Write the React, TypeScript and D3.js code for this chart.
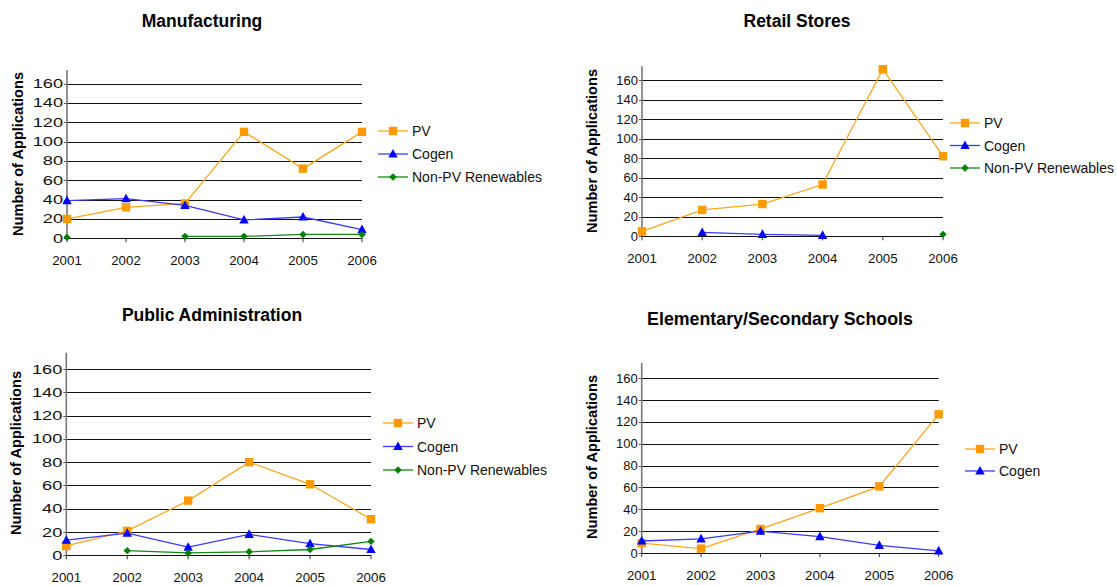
import React from "react";
import * as d3 from "d3";

const years = ["2001", "2002", "2003", "2004", "2005", "2006"];
const yTicks = [0, 20, 40, 60, 80, 100, 120, 140, 160];
const seriesNames = ["PV", "Cogen", "Non-PV Renewables"];

const manufacturingPV = [20, 32, 36, 110, 72, 110];
const manufacturingCogen = [39, 41, 34, 19, 22, 9];
const manufacturingNonPV = [1, null, 2, 2, 4, 4];

const retailPV = [5, 27, 33, 53, 171, 82];
const retailCogen = [null, 4, 2, 1, null, null];
const retailNonPV = [null, null, null, null, null, 2];

const publicPV = [8, 21, 47, 80, 61, 31];
const publicCogen = [13, 19, 7, 18, 10, 5];
const publicNonPV = [null, 4, 2, 3, 5, 12];

const schoolsPV = [9, 4, 22, 41, 61, 127];
const schoolsCogen = [11, 13, 20, 15, 7, 2];

type Val = number | null;

const STYLES = [
  { line: "#FFA520", fill: "#FF9900", marker: "square" },
  { line: "#3A3AFF", fill: "#0000FF", marker: "triangle" },
  { line: "#118811", fill: "#008000", marker: "diamond" },
];

const FONT = "'Liberation Sans', Arial, Helvetica, sans-serif";

const panels = [
  {
    title: "Manufacturing", titleX: 202, titleY: 21, titleSize: 17.5,
    x0: 67, x1: 362, yBase: 238.3, yTop: 83.5, axisMax: 174, tickStretch: 1.4,
    labelX: 18, labelY: 154,
    legX: 378, legY: 131, legGap: 23,
    series: [manufacturingPV, manufacturingCogen, manufacturingNonPV],
  },
  {
    title: "Retail Stores", titleX: 797, titleY: 21, titleSize: 17.5,
    x0: 642, x1: 943, yBase: 236.3, yTop: 80, axisMax: 174, tickStretch: 1,
    labelX: 592, labelY: 151,
    legX: 950, legY: 123, legGap: 22.5,
    series: [retailPV, retailCogen, retailNonPV],
  },
  {
    title: "Public Administration", titleX: 212, titleY: 315, titleSize: 17.5,
    x0: 66.3, x1: 371, yBase: 555.3, yTop: 369, axisMax: 174, tickStretch: 1.4,
    labelX: 16, labelY: 453,
    legX: 383, legY: 423, legGap: 23.5,
    series: [publicPV, publicCogen, publicNonPV],
  },
  {
    title: "Elementary/Secondary Schools", titleX: 780, titleY: 319, titleSize: 17.8,
    x0: 641.7, x1: 938.7, yBase: 553, yTop: 378.3, axisMax: 174, tickStretch: 1,
    labelX: 592, labelY: 457,
    legX: 965, legY: 449, legGap: 22,
    series: [schoolsPV, schoolsCogen],
  },
];

function Marker({ kind, x, y, fill }: { kind: string; x: number; y: number; fill: string }) {
  if (kind === "square") {
    return <rect x={x - 4.2} y={y - 4.2} width={8.4} height={8.4} fill={fill} />;
  }
  if (kind === "triangle") {
    return <path d={`M${x},${y - 5}L${x + 4.7},${y + 3.6}L${x - 4.7},${y + 3.6}Z`} fill={fill} />;
  }
  return <path d={`M${x},${y - 3.7}L${x + 3.7},${y}L${x},${y + 3.7}L${x - 3.7},${y}Z`} fill={fill} />;
}

function Panel({ p }: { p: (typeof panels)[number] }) {
  const x = d3.scalePoint<string>().domain(years).range([p.x0, p.x1]);
  const y = d3.scaleLinear().domain([0, 160]).range([p.yBase, p.yTop]);
  const line = d3
    .line<Val>()
    .defined((d) => d !== null)
    .x((_, i) => x(years[i]) as number)
    .y((d) => y(d as number));

  return (
    <g>
      <text x={p.titleX} y={p.titleY} textAnchor="middle" dominantBaseline="central"
        fontFamily={FONT} fontWeight="bold" fontSize={p.titleSize} fill="#000">{p.title}</text>
      {yTicks.map((t) => (
        <g key={t}>
          <line x1={p.x0} x2={p.x1} y1={Math.round(y(t)) + 0.5} y2={Math.round(y(t)) + 0.5}
            stroke="#111" strokeWidth={1} />
          <line x1={p.x0 - 3} x2={p.x0} y1={Math.round(y(t)) + 0.5} y2={Math.round(y(t)) + 0.5}
            stroke="#555" strokeWidth={1} />
          <text transform={`translate(${p.x0 - 4},${y(t)}) scale(${p.tickStretch},1)`} textAnchor="end"
            dominantBaseline="central" fontFamily={FONT} fontSize={13} fill="#111">{t}</text>
        </g>
      ))}
      <line x1={p.x0} x2={p.x0} y1={y(p.axisMax)} y2={p.yBase} stroke="#777" strokeWidth={1.6} />
      {years.map((yr) => (
        <g key={yr}>
          <line x1={x(yr)} x2={x(yr)} y1={p.yBase} y2={p.yBase + 4} stroke="#333" strokeWidth={1} />
          <text x={x(yr)} y={p.yBase + 22} textAnchor="middle" dominantBaseline="central"
            fontFamily={FONT} fontSize={13.3} fill="#111">{yr}</text>
        </g>
      ))}
      <text transform={`translate(${p.labelX},${p.labelY}) rotate(-90)`} textAnchor="middle"
        dominantBaseline="central" fontFamily={FONT} fontWeight="bold" fontSize={14.6} fill="#000">
        Number of Applications
      </text>
      {p.series.map((vals, si) => (
        <g key={si}>
          <path d={line(vals) || ""} fill="none" stroke={STYLES[si].line} strokeWidth={1.3} />
          {vals.map((v, i) =>
            v === null ? null : (
              <Marker key={i} kind={STYLES[si].marker} x={x(years[i]) as number} y={y(v)} fill={STYLES[si].fill} />
            )
          )}
        </g>
      ))}
      {p.series.map((_, si) => {
        const ly = p.legY + si * p.legGap;
        return (
          <g key={"leg" + si}>
            <line x1={p.legX} x2={p.legX + 30} y1={ly} y2={ly} stroke={STYLES[si].line} strokeWidth={1.3} />
            <Marker kind={STYLES[si].marker} x={p.legX + 15} y={ly} fill={STYLES[si].fill} />
            <text x={p.legX + 34} y={ly} dominantBaseline="central" fontFamily={FONT} fontSize={14} fill="#111">
              {seriesNames[si]}
            </text>
          </g>
        );
      })}
    </g>
  );
}

export default function App() {
  return (
    <svg width={1117} height={585} style={{ position: "absolute", left: 0, top: 0, background: "#fff" }}>
      <rect width={1117} height={585} fill="#fff" />
      {panels.map((p) => (
        <Panel key={p.title} p={p} />
      ))}
    </svg>
  );
}
